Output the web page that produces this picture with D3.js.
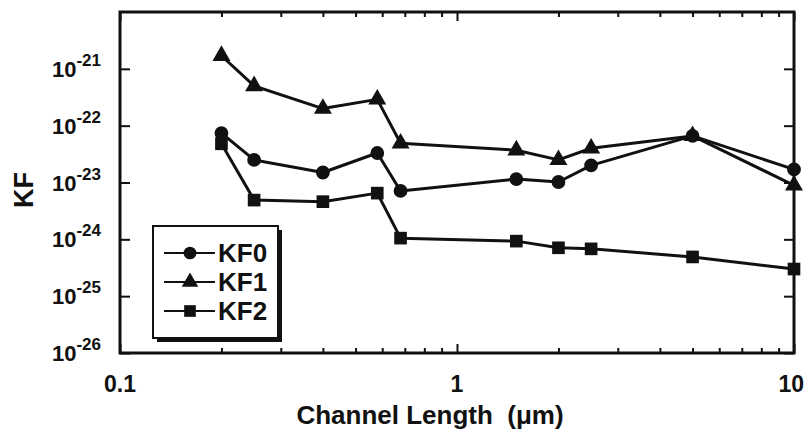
<!DOCTYPE html>
<html>
<head>
<meta charset="utf-8">
<script src="https://cdn.jsdelivr.net/npm/d3@7"></script>
<style>
  body { margin: 0; background: #fff; }
  text { font-family: "Liberation Sans", Arial, sans-serif; font-weight: bold; fill: #111; }
</style>
</head>
<body>
<svg id="chart" width="805" height="432"></svg>
<script>
// Channel length (um) and noise coefficients
const lengths = [0.2, 0.25, 0.4, 0.58, 0.68, 1.5, 2, 2.5, 5, 10];
const kf0 = [7.4e-23, 2.5e-23, 1.5e-23, 3.3e-23, 7.1e-24, 1.15e-23, 1.02e-23, 2.0e-23, 6.6e-23, 1.7e-23];
const kf1 = [1.7e-21, 5.0e-22, 2.0e-22, 2.9e-22, 4.9e-23, 3.7e-23, 2.5e-23, 4.0e-23, 6.6e-23, 8.9e-24];
const kf2 = [4.8e-23, 4.9e-24, 4.6e-24, 6.5e-24, 1.05e-24, 9.3e-25, 7.1e-25, 6.8e-25, 4.9e-25, 3.0e-25];
const seriesNames = ["KF0", "KF1", "KF2"];
const xMajor = [0.1, 1, 10];
const yExponents = [-26, -25, -24, -23, -22, -21];

const margin = { top: 12, right: 11, bottom: 79, left: 120 };
const width = 805, height = 432;
const innerW = width - margin.left - margin.right;
const innerH = height - margin.top - margin.bottom;

const svg = d3.select("#chart");
const g = svg.append("g").attr("transform", `translate(${margin.left},${margin.top})`);

const x = d3.scaleLog().domain([0.1, 10]).range([0, innerW]);
const y = d3.scaleLog().domain([1e-26, 1e-20]).range([innerH, 0]);

// minor ticks for x
const xMinor = [];
[0.1, 1].forEach(b => { for (let k = 2; k <= 9; k++) xMinor.push(+(b * k).toFixed(2)); });

// Axes (ticks drawn inward)
function styleAxis(sel) {
  sel.select(".domain").remove();
  sel.selectAll("line").attr("stroke", "#111").attr("stroke-width", 2);
  sel.selectAll("text").remove();
}
g.append("g").attr("transform", `translate(0,${innerH})`)
  .call(d3.axisBottom(x).tickValues(xMajor).tickSize(-9)).call(styleAxis);
g.append("g").attr("transform", `translate(0,${innerH})`)
  .call(d3.axisBottom(x).tickValues(xMinor).tickSize(-5)).call(styleAxis);
g.append("g")
  .call(d3.axisTop(x).tickValues(xMajor).tickSize(-9)).call(styleAxis);
g.append("g")
  .call(d3.axisTop(x).tickValues(xMinor).tickSize(-5)).call(styleAxis);
const yTicks = yExponents.map(e => Math.pow(10, e));
g.append("g")
  .call(d3.axisLeft(y).tickValues(yTicks).tickSize(-10)).call(styleAxis);
g.append("g").attr("transform", `translate(${innerW},0)`)
  .call(d3.axisRight(y).tickValues(yTicks).tickSize(-10)).call(styleAxis);

// Frame
g.append("rect")
  .attr("x", 0).attr("y", 0).attr("width", innerW).attr("height", innerH)
  .attr("fill", "none").attr("stroke", "#111").attr("stroke-width", 3);

// Y tick labels with superscripts
yExponents.forEach(e => {
  const t = g.append("text")
    .attr("x", -19)
    .attr("y", y(Math.pow(10, e)) + 8)
    .attr("text-anchor", "end")
    .style("font-size", "22px");
  t.append("tspan").text("10");
  t.append("tspan").attr("dy", -11).style("font-size", "17px").text(String(e));
});

// X tick labels (last one kept inside the page edge)
xMajor.forEach((v, i) => {
  const last = i === xMajor.length - 1;
  g.append("text")
    .attr("x", last ? width - margin.left - 1 : x(v))
    .attr("y", innerH + 39)
    .attr("text-anchor", last ? "end" : "middle")
    .style("font-size", "23px")
    .text(d3.format("~g")(v));
});

// Axis titles
svg.append("text")
  .attr("x", 430).attr("y", 424)
  .attr("text-anchor", "middle")
  .style("font-size", "26px")
  .attr("xml:space", "preserve")
  .text("Channel Length  (\u03bcm)");
svg.append("text")
  .attr("transform", "translate(33,190) rotate(-90)")
  .attr("text-anchor", "middle")
  .style("font-size", "27px")
  .text("KF");

// Series
const series = [kf0, kf1, kf2].map((vals, i) => ({
  name: seriesNames[i],
  points: lengths.map((l, j) => ({ l, v: vals[j] }))
}));
const symbols = [d3.symbolCircle, d3.symbolTriangle, d3.symbolSquare];
const symSizes = [150, 140, 160];

const line = d3.line().x(d => x(d.l)).y(d => y(d.v));

series.forEach((s, i) => {
  g.append("path")
    .datum(s.points)
    .attr("fill", "none")
    .attr("stroke", "#111")
    .attr("stroke-width", 3)
    .attr("stroke-linejoin", "round")
    .attr("d", line);
  g.selectAll(".m" + i)
    .data(s.points)
    .enter()
    .append("path")
    .attr("class", "m" + i)
    .attr("transform", d => `translate(${x(d.l)},${y(d.v)})`)
    .attr("d", d3.symbol().type(symbols[i]).size(symSizes[i]))
    .attr("fill", "#111");
});

// Legend
const lg = svg.append("g").attr("transform", "translate(153,226)");
lg.append("rect")
  .attr("x", 4).attr("y", 4).attr("width", 125).attr("height", 112)
  .attr("fill", "#111");
lg.append("rect")
  .attr("x", 0).attr("y", 0).attr("width", 125).attr("height", 112)
  .attr("fill", "#fff").attr("stroke", "#111").attr("stroke-width", 2);
series.forEach((s, i) => {
  const row = lg.append("g").attr("transform", `translate(0,${27 + i * 29})`);
  row.append("line")
    .attr("x1", 11).attr("x2", 62)
    .attr("stroke", "#111").attr("stroke-width", 2);
  row.append("path")
    .attr("transform", "translate(37,0)")
    .attr("d", d3.symbol().type(symbols[i]).size(symSizes[i] * 0.85))
    .attr("fill", "#111");
  row.append("text")
    .attr("x", 65).attr("y", 9)
    .style("font-size", "26px")
    .text(s.name);
});
</script>
</body>
</html>
